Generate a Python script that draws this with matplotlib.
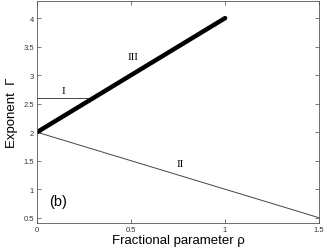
import matplotlib.pyplot as plt

plt.rcParams['font.family'] = ['Liberation Sans', 'DejaVu Sans']

# data
rho = [0, 1.5]
gamma_II = [2.0, 0.5]
rho_III = [0, 1.0]
gamma_III = [2.0, 4.0]
rho_I = [0, 0.3]
gamma_I = [2.6, 2.6]
xticks = [0, 0.5, 1, 1.5]
xticklabels = ['0', '0.5', '1', '1.5']
yticks = [0.5, 1, 1.5, 2, 2.5, 3, 3.5, 4]
yticklabels = ['0.5', '1', '1.5', '2', '2.5', '3', '3.5', '4']

fig = plt.figure(figsize=(3.27, 2.51), dpi=100)
ax = fig.add_axes([0.113, 0.108, 0.863, 0.884])

ax.plot(rho_I, gamma_I, color='#444444', lw=0.7)
ax.plot(rho, gamma_II, color='#444444', lw=0.7)
ax.plot(rho_III, gamma_III, color='black', lw=3.2, solid_capstyle='round')

ax.text(0.14, 2.66, 'I', family='Liberation Serif', fontsize=8, ha='center', va='bottom')
ax.text(0.76, 1.45, 'II', family='Liberation Serif', fontsize=8, ha='center', va='center')
ax.text(0.51, 3.33, 'III', family='Liberation Serif', fontsize=8, ha='center', va='center')
ax.text(0.11, 0.79, '(b)', fontsize=10.5, ha='center', va='center')

ax.set_xlim(0, 1.5)
ax.set_ylim(0.41, 4.3)
ax.set_xticks(xticks)
ax.set_xticklabels(xticklabels)
ax.set_yticks(yticks)
ax.set_yticklabels(yticklabels)
ax.tick_params(direction='in', top=True, right=True, labelsize=5.5, length=3,
               width=0.5, color='#444444', labelcolor='#333333', pad=2)
for s in ax.spines.values():
    s.set_linewidth(0.6)
    s.set_color('#555555')

ax.set_xlabel('Fractional parameter \u03c1', fontsize=9.5, labelpad=1)
ax.set_ylabel('Exponent  \u0393', fontsize=9.5, labelpad=4)

plt.savefig('out.png', dpi=100)
